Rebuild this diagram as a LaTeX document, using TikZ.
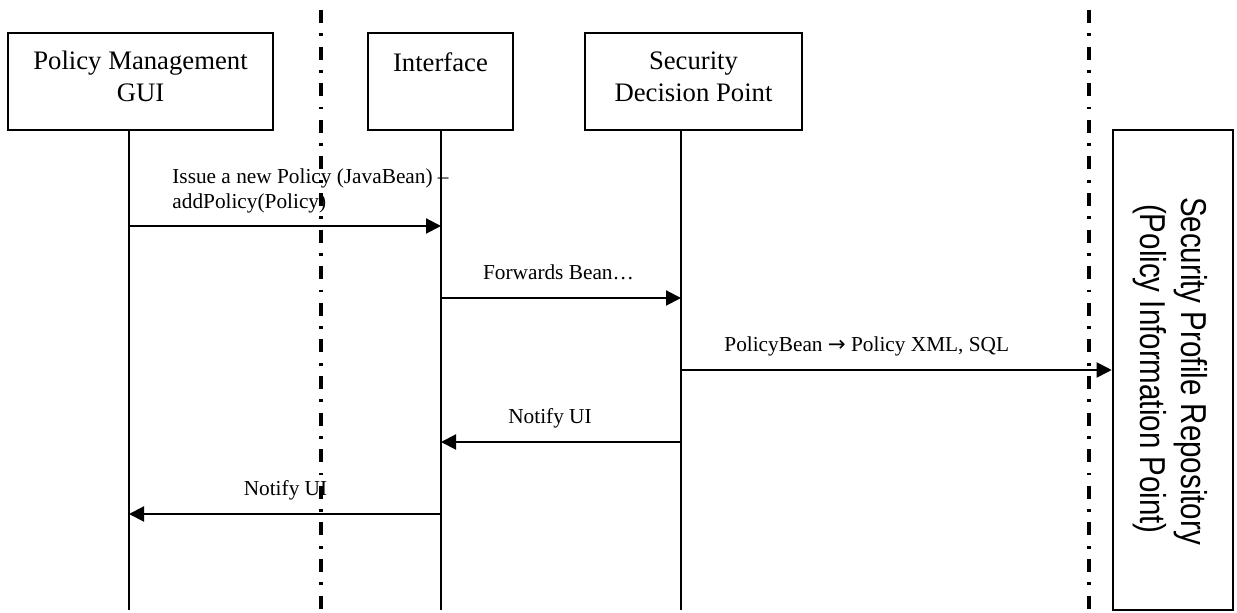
\documentclass[tikz,border=0pt]{standalone}
\usepackage{fontspec}
\setmainfont{Liberation Serif}
\newfontfamily\repofont{Liberation Sans}
\newfontfamily\symfont{DejaVu Sans}
\usetikzlibrary{arrows.meta}

\begin{document}
\begin{tikzpicture}[x=0.5pt,y=-0.5pt,
  objbox/.style={draw, line width=1.3pt, inner sep=0pt},
  objtext/.style={font=\fontsize{13.35pt}{16pt}\selectfont, align=center, inner sep=0pt, anchor=north},
  lifeline/.style={line width=1pt},
  boundary/.style={line width=2pt, dash pattern=on 6.5pt off 5.2pt on 1.4pt off 5.2pt},
  msg/.style={line width=1pt, -{Triangle[length=7.5pt,width=7.5pt]}},
  msgtext/.style={font=\fontsize{10.65pt}{12.5pt}\selectfont, inner sep=0pt},
  repotext/.style={font=\repofont\fontsize{18pt}{20pt}\selectfont, inner sep=0pt, anchor=base, rotate=-90}
]
\useasboundingbox (0,0) rectangle (1237,613);

% tier boundaries
\coordinate (b1-top) at (321,10);
\coordinate (b1-end) at (321,610);
\coordinate (b2-top) at (1089,10);
\coordinate (b2-end) at (1089,610);
\draw[boundary] (b1-top) -- (b1-end);
\draw[boundary] (b2-top) -- (b2-end);

% participants
\node[objbox, minimum width=132.5pt, minimum height=48.5pt] (gui) at (140.5,81.5) {};
\node[objtext] (gui-label) at (140.5,51) {Policy Management\\GUI};
\node[objbox, minimum width=72.5pt, minimum height=48.5pt] (iface) at (440.5,81.5) {};
\node[objtext] (iface-label) at (440.5,52) {Interface};
\node[objbox, minimum width=108.5pt, minimum height=48.5pt] (sdp) at (693.5,81.5) {};
\node[objtext] (sdp-label) at (693.5,51) {Security\\Decision Point};
\node[objbox, minimum width=60pt, minimum height=240pt] (repo) at (1173,370) {};
\node[repotext] (repo-l1) at (1181,371) {\scalebox{0.82}[1]{Security Profile Repository}};
\node[repotext] (repo-l2) at (1140,369) {\scalebox{0.82}[1]{(Policy Information Point)}};

% lifelines
\coordinate (gui-top) at (129,130);
\coordinate (gui-end) at (129,610);
\coordinate (iface-top) at (441,130);
\coordinate (iface-end) at (441,610);
\coordinate (sdp-top) at (681,130);
\coordinate (sdp-end) at (681,610);
\draw[lifeline] (gui-top) -- (gui-end);
\draw[lifeline] (iface-top) -- (iface-end);
\draw[lifeline] (sdp-top) -- (sdp-end);

% message anchor points on the lifelines
\coordinate (gui-m1) at (129,226);
\coordinate (iface-m1) at (441,226);
\coordinate (iface-m2) at (441,298);
\coordinate (sdp-m2) at (681,298);
\coordinate (sdp-m3) at (681,370);
\coordinate (sdp-m4) at (681,442);
\coordinate (iface-m4) at (441,442);
\coordinate (iface-m5) at (441,514);
\coordinate (gui-m5) at (129,514);

% messages
\draw[msg] (gui-m1) -- (iface-m1);
\node[msgtext, anchor=north west, align=left] (m1-label) at (172,168) {Issue a new Policy (JavaBean) --\\addPolicy(Policy)};

\draw[msg] (iface-m2) -- (sdp-m2);
\node[msgtext, anchor=base] (m2-label) at (558.5,280) {Forwards Bean…};

\draw[msg] (sdp-m3) -- (repo.west);
\node[msgtext, anchor=base west] (m3-label) at (724,352) {PolicyBean {\symfont →} Policy XML, SQL};

\draw[msg] (sdp-m4) -- (iface-m4);
\node[msgtext, anchor=base] (m4-label) at (550,424) {Notify UI};

\draw[msg] (iface-m5) -- (gui-m5);
\node[msgtext, anchor=base] (m5-label) at (285.5,496) {Notify UI};
\end{tikzpicture}
\end{document}
